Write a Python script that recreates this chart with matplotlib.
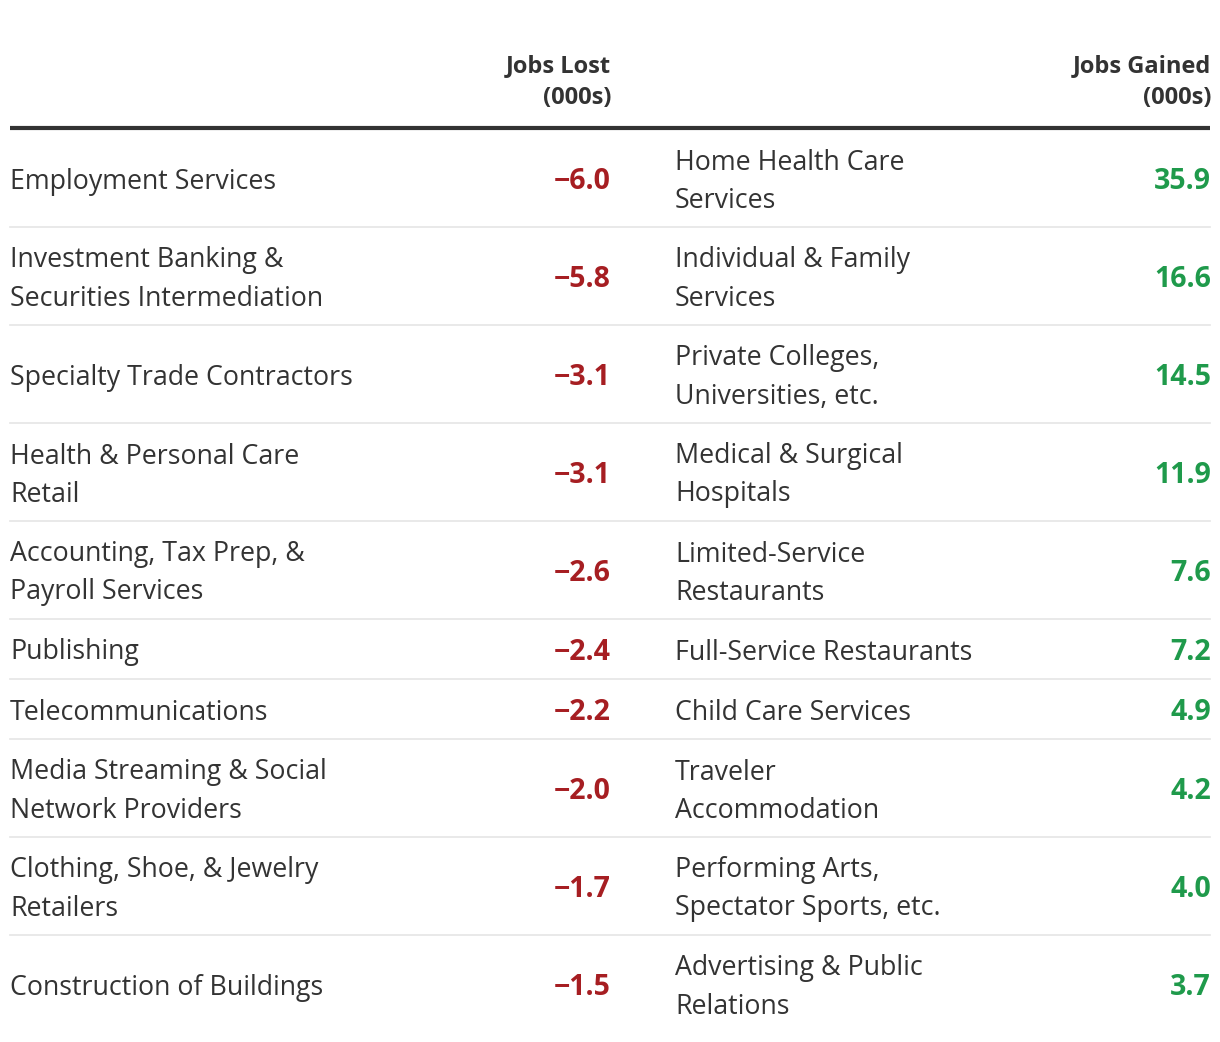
import matplotlib
matplotlib.use("Agg")
from matplotlib import pyplot as plt

plt.rcParams['font.family'] = ['Open Sans', 'DejaVu Sans']

# table data
lost_names = ["Employment Services",
              "Investment Banking &\nSecurities Intermediation",
              "Specialty Trade Contractors",
              "Health & Personal Care\nRetail",
              "Accounting, Tax Prep, &\nPayroll Services",
              "Publishing",
              "Telecommunications",
              "Media Streaming & Social\nNetwork Providers",
              "Clothing, Shoe, & Jewelry\nRetailers",
              "Construction of Buildings"]
lost_vals = [-6.0, -5.8, -3.1, -3.1, -2.6, -2.4, -2.2, -2.0, -1.7, -1.5]

gained_names = ["Home Health Care\nServices",
                "Individual & Family\nServices",
                "Private Colleges,\nUniversities, etc.",
                "Medical & Surgical\nHospitals",
                "Limited-Service\nRestaurants",
                "Full-Service Restaurants",
                "Child Care Services",
                "Traveler\nAccommodation",
                "Performing Arts,\nSpectator Sports, etc.",
                "Advertising & Public\nRelations"]
gained_vals = [35.9, 16.6, 14.5, 11.9, 7.6, 7.2, 4.9, 4.2, 4.0, 3.7]

headers = ["Jobs Lost\n(000s)", "Jobs Gained\n(000s)"]

W, H = 1220, 1042
fig = plt.figure(figsize=(W / 100, H / 100), dpi=100)
ax = fig.add_axes([0, 0, 1, 1])
ax.set_xlim(0, W)
ax.set_ylim(H, 0)
ax.axis("off")

red = "#a61e22"
green = "#1f9a4b"
txt = "#333333"
fs = 19.3
fs_val = 20.5
line_h = 38


def multiline(x, yc, s, **kw):
    lines = s.split("\n")
    n = len(lines)
    for i, ln in enumerate(lines):
        y = yc + (i - (n - 1) / 2) * line_h
        ax.text(x, y, ln, va="center_baseline", **kw)


# header
for x, h in zip([611, 1211], headers):
    l1, l2 = h.split("\n")
    ax.text(x, 63, l1, ha="right", va="center_baseline", fontsize=17,
            fontweight="bold", color=txt)
    ax.text(x, 95, l2, ha="right", va="center_baseline", fontsize=17,
            fontweight="bold", color=txt)
ax.plot([10, 1210], [128, 128], color="#333333", lw=3, solid_capstyle="butt")

y = 129
for i in range(len(lost_names)):
    nlines = max(lost_names[i].count("\n"), gained_names[i].count("\n")) + 1
    rh = 98 if nlines > 1 else 60
    yc = y + rh / 2
    multiline(10, yc, lost_names[i], ha="left", fontsize=fs, color=txt)
    multiline(675, yc, gained_names[i], ha="left", fontsize=fs, color=txt)
    ax.text(611, yc, "\u2212%.1f" % abs(lost_vals[i]), ha="right",
            va="center_baseline", fontsize=fs_val, fontweight="bold", color=red)
    ax.text(1211, yc, "%.1f" % gained_vals[i], ha="right",
            va="center_baseline", fontsize=fs_val, fontweight="bold", color=green)
    y += rh
    if i < len(lost_names) - 1:
        ax.plot([10, 1210], [y, y], color="#e5e5e5", lw=1.2)

fig.savefig("out.png", dpi=100)
